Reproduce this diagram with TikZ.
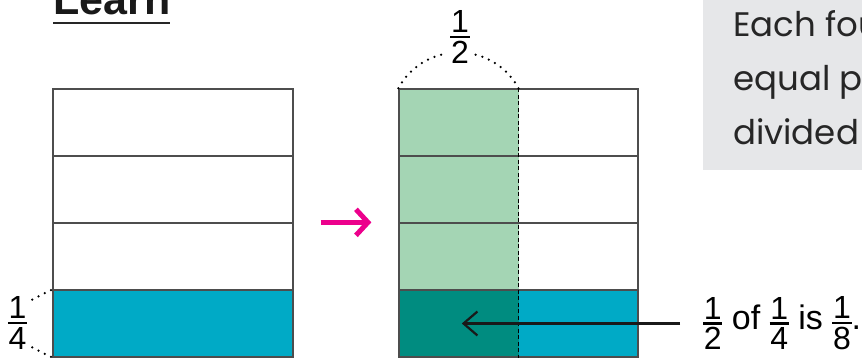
\documentclass[tikz,border=0pt]{standalone}
\usepackage{fontspec}
\usepackage{xcolor}
\usepackage{tikz}
\usetikzlibrary{arrows.meta}
\setmainfont{Liberation Sans}
\newfontfamily\notefont{Poppins}

\definecolor{barcyan}{HTML}{00AAC6}
\definecolor{tealdk}{HTML}{008C80}
\definecolor{greenlt}{HTML}{A4D5B4}
\definecolor{notegray}{HTML}{E6E7E9}
\definecolor{arrowpink}{HTML}{EC008C}
\definecolor{edgegray}{HTML}{4D4D4D}

\newcommand{\fracfont}{\fontsize{32pt}{32pt}\selectfont}
\newcommand{\frc}[2]{$\vcenter{\offinterlineskip
  \halign{\hfil\fracfont##\hfil\cr #1\cr\noalign{\kern3pt}\rule{0.6em}{2.4pt}\cr\noalign{\kern3pt}#2\cr}}$}

\begin{document}
\begin{tikzpicture}[x=1pt, y=1pt]
    \tikzstyle{cell} = [rectangle, draw=edgegray, line width=1.3pt, inner sep=0pt, minimum width=240pt, minimum height=67pt]
    \tikzstyle{halfcell} = [rectangle, inner sep=0pt, minimum width=119.5pt, minimum height=67pt]
    \tikzstyle{dotline} = [line width=2.5pt, line cap=round, dash pattern=on 0pt off 7pt]
    \tikzstyle{midline} = [black, line width=1pt, dash pattern=on 4pt off 2.5pt]
    \tikzstyle{pinkarr} = [arrowpink, line width=5pt, -{Straight Barb[length=12pt, width=26pt]}]
    \tikzstyle{pointer} = [black!90, line width=2.2pt, -{Straight Barb[length=14pt, width=24pt]}]

    \useasboundingbox (0,0) rectangle (862,358);
    \clip (0,0) rectangle (862,358);

    % Note box
    \fill[notegray] (703,188) rectangle (870,365);
    \node[anchor=base west, inner sep=0pt, align=left, font=\notefont\fontsize{34pt}{54pt}\selectfont, text=black!85] (note) at (733,213) {Each fou\\equal pa\\divided in};

    % Title
    \node[anchor=base west, inner sep=0pt, font=\fontsize{43pt}{43pt}\selectfont\bfseries, text=black!90] (title) at (53,343) {Learn};
    \draw[line width=2.5pt, black!85] ([yshift=-8pt]title.base west) -- ([yshift=-8pt]title.base east);

    % Left bar
    \node[cell, fill=barcyan] (L1) at (173,34.5) {};
    \foreach \r in {2,...,4} {
        \node[cell] (L\r) at (173,{67*\r-32.5}) {};
    }

    % Right bar: halves, then rows
    \node[halfcell, fill=tealdk] (A1) at (458.75,34.5) {};
    \node[halfcell, fill=barcyan] (B1) at (578.25,34.5) {};
    \foreach \r in {2,...,4} {
        \node[halfcell, fill=greenlt] (A\r) at (458.75,{67*\r-32.5}) {};
    }
    \foreach \r in {1,...,4} {
        \node[cell, minimum width=239pt] (R\r) at (518.5,{67*\r-32.5}) {};
    }
    \draw[midline] (R4.north) -- (R1.south);

    % Fractions
    \node[inner sep=0pt] (quarter) at (17.5,35) {\frc{1}{4}};
    \node[inner sep=0pt] (half) at (460,321) {\frc{1}{2}};
    \node[anchor=west, inner sep=0pt, font=\fontsize{34pt}{40pt}\selectfont] (ofexpr) at (703,34.5) {\frc{1}{2} of \frc{1}{4} is \frc{1}{8}.};

    % Dotted brackets
    \draw[dotline] ([shift={(5pt,-3pt)}]quarter.north east) -- (L1.north west);
    \draw[dotline] ([shift={(5pt,2pt)}]quarter.south east) -- (L1.south west);
    \draw[dotline] (R4.north west) arc[start angle=152, end angle=101, radius=67.3];
    \draw[dotline] (R4.north) arc[start angle=28, end angle=79, radius=67.3];

    % Arrows
    \draw[pinkarr] ([xshift=27pt]L2.north east) -- ([xshift=-27pt]R2.north west);
    \draw[pointer] ([xshift=-23pt]ofexpr.west) -- ([xshift=3pt]A1.center);
\end{tikzpicture}
\end{document}
